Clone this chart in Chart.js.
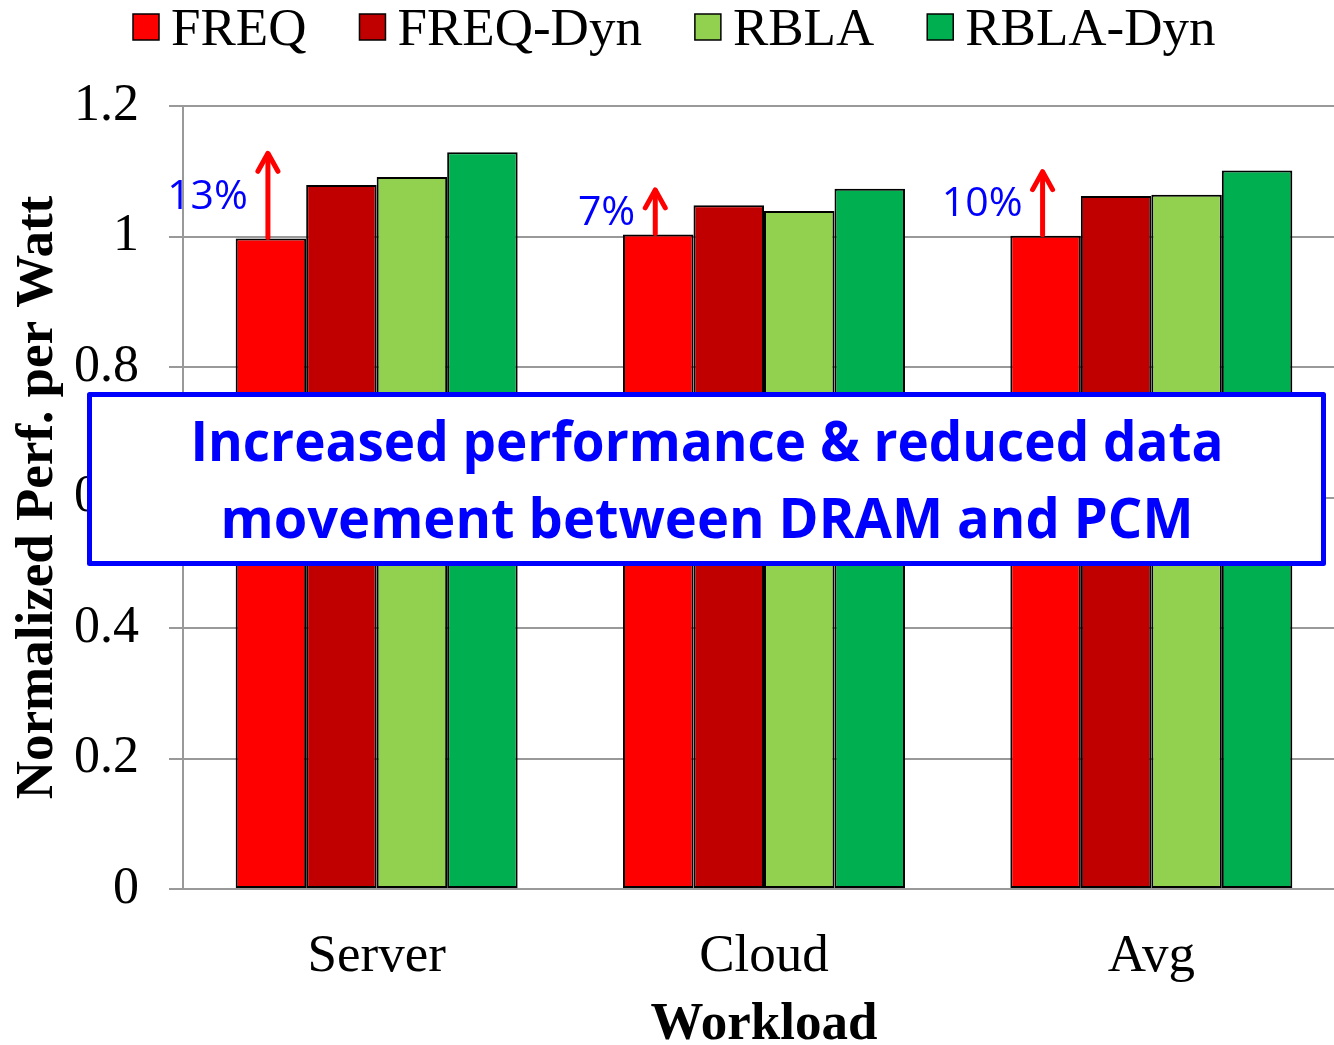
<!DOCTYPE html>
<html>
<head>
<meta charset="utf-8">
<script src="https://cdn.jsdelivr.net/npm/chart.js@4.4.0/dist/chart.umd.min.js"></script>
<style>
  html, body { margin: 0; padding: 0; background: #fff; overflow: hidden; }
  #myChart { display: block; }
</style>
</head>
<body>
<canvas id="myChart" width="1345" height="1045"></canvas>
<script>
// values
var categories = ['Server', 'Cloud', 'Avg'];
var seriesNames = ['FREQ', 'FREQ-Dyn', 'RBLA', 'RBLA-Dyn'];
var freq = [0.997, 1.003, 1.001];
var freqDyn = [1.079, 1.048, 1.062];
var rbla = [1.091, 1.039, 1.064];
var rblaDyn = [1.129, 1.073, 1.101];
var gainLabels = ['13%', '7%', '10%'];
var noteLines = ['Increased performance & reduced data', 'movement between DRAM and PCM'];

var colors = ['#FF0000', '#C00000', '#92D050', '#00B050'];
var serif = "'Liberation Serif', 'Times New Roman', serif";
var sans = "'Open Sans', 'Liberation Sans', sans-serif";

// legend, arrows and the note box
var overlay = {
  id: 'overlay',
  afterDraw: function (chart) {
    var ctx = chart.ctx;
    var y = chart.scales.y;
    ctx.save();

    // legend
    ctx.font = '53px ' + serif;
    ctx.textBaseline = 'alphabetic';
    var x = 133;
    chart.data.datasets.forEach(function (ds) {
      ctx.fillStyle = ds.backgroundColor;
      ctx.fillRect(x, 14, 26, 26);
      ctx.strokeStyle = '#000';
      ctx.lineWidth = 1.5;
      ctx.strokeRect(x, 14, 26, 26);
      ctx.fillStyle = '#000';
      ctx.fillText(ds.label, x + 38, 45);
      x += 38 + ctx.measureText(ds.label).width + 53;
    });

    // gain arrows from FREQ up to RBLA-Dyn
    var bars = chart.getDatasetMeta(0).data;
    categories.forEach(function (c, i) {
      var ax = bars[i].x - 3;
      var yBot = y.getPixelForValue(freq[i]) - 1;
      var yTop = y.getPixelForValue(rblaDyn[i]);
      ctx.strokeStyle = '#FF0000';
      ctx.lineWidth = 5;
      ctx.lineCap = 'round';
      ctx.lineJoin = 'round';
      ctx.beginPath();
      ctx.moveTo(ax, yBot);
      ctx.lineTo(ax, yTop + 2);
      ctx.stroke();
      ctx.beginPath();
      ctx.moveTo(ax - 10, yTop + 19);
      ctx.lineTo(ax, yTop + 1);
      ctx.lineTo(ax + 10, yTop + 19);
      ctx.stroke();

      ctx.fillStyle = '#0000FF';
      ctx.font = '41px ' + sans;
      ctx.textAlign = 'right';
      ctx.textBaseline = 'middle';
      ctx.fillText(gainLabels[i], ax - 20, (yBot + yTop) / 2 + 2);
    });

    // note box
    ctx.fillStyle = '#fff';
    ctx.fillRect(89, 394, 1235, 170);
    ctx.strokeStyle = '#0000FF';
    ctx.lineWidth = 5;
    ctx.strokeRect(89.5, 394.5, 1234, 169);

    ctx.fillStyle = '#0000FF';
    ctx.font = 'bold 56px ' + sans;
    ctx.textAlign = 'center';
    ctx.textBaseline = 'alphabetic';
    var targets = [[1033, 461], [973, 538]];
    noteLines.forEach(function (t, i) {
      var w = ctx.measureText(t).width;
      var sx = targets[i][0] / w;
      ctx.save();
      ctx.translate(707, targets[i][1]);
      ctx.scale(sx, 1);
      ctx.fillText(t, 0, 0);
      ctx.restore();
    });

    ctx.restore();
  }
};

var seriesData = [freq, freqDyn, rbla, rblaDyn];

var ctx = document.getElementById('myChart');
var myChart = new Chart(ctx, {
  type: 'bar',
  data: {
    labels: categories,
    datasets: seriesNames.map(function (name, i) {
      return {
        label: name,
        data: seriesData[i],
        backgroundColor: colors[i],
        borderColor: '#000',
        borderWidth: 2,
        borderSkipped: false,
        categoryPercentage: 0.728,
        barPercentage: 1
      };
    })
  },
  options: {
    responsive: false,
    animation: false,
    devicePixelRatio: 1,
    layout: { padding: { top: 106, right: 0, bottom: 0, left: 0 } },
    plugins: {
      legend: { display: false },
      tooltip: { enabled: false }
    },
    scales: {
      x: {
        grid: { display: false, drawTicks: false },
        border: { display: false },
        ticks: { color: '#000', font: { family: serif, size: 53 }, padding: 36 },
        title: {
          display: true,
          text: 'Workload',
          color: '#000',
          font: { family: serif, size: 53, weight: 'bold', lineHeight: 0.76 },
          padding: { top: 0, bottom: 0 }
        },
        afterFit: function (s) { s.height = 156; }
      },
      y: {
        min: 0,
        max: 1.2,
        ticks: {
          stepSize: 0.2,
          color: '#000',
          font: { family: serif, size: 52 },
          padding: 30,
          callback: function (v) { return String(+v.toFixed(1)); }
        },
        grid: { color: '#999', lineWidth: 2, tickLength: 14 },
        border: { display: true, color: '#999', width: 2 },
        title: {
          display: true,
          text: 'Normalized Perf. per Watt',
          color: '#000',
          font: { family: serif, size: 53, weight: 'bold', lineHeight: 1 },
          padding: { top: 12, bottom: 0 }
        },
        afterFit: function (s) { s.width = 183; }
      }
    }
  },
  plugins: [overlay]
});
</script>
</body>
</html>
